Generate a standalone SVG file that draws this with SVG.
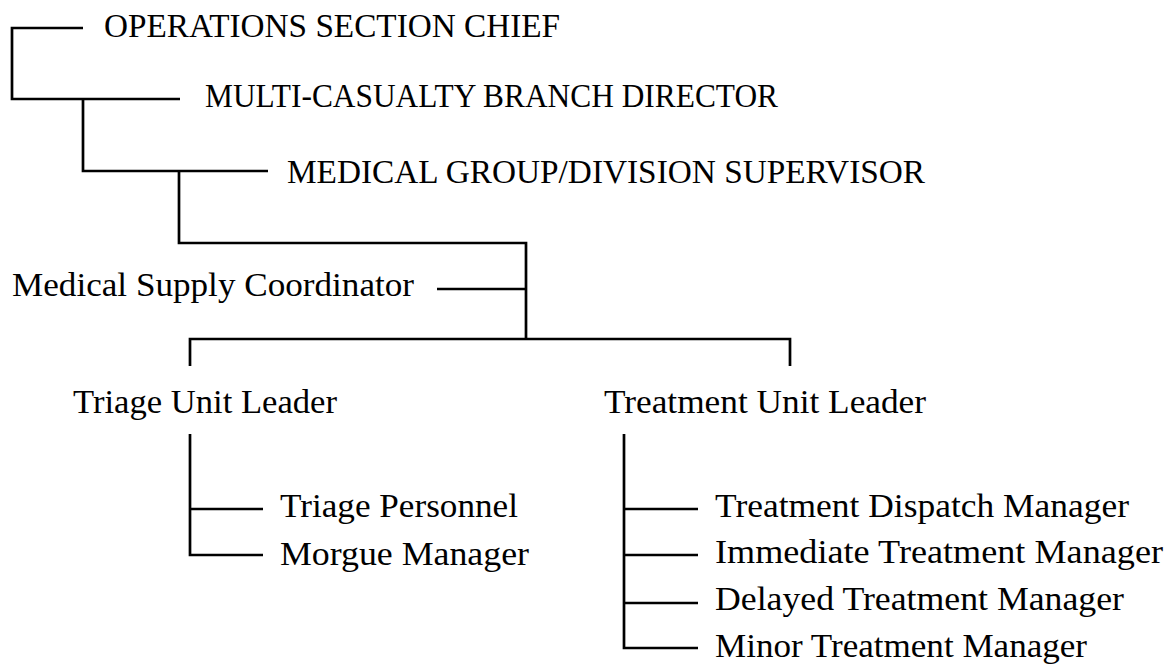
<svg xmlns="http://www.w3.org/2000/svg" width="1175" height="667" viewBox="0 0 1175 667">
<style>
.conn{fill:none;stroke:#000;stroke-width:2.7;stroke-linecap:butt;stroke-linejoin:miter}
.t{font-family:"Liberation Serif","Times New Roman",serif;font-size:34px;fill:#000}
</style>
<rect width="1175" height="667" fill="#fff"/>
<g id="connectors">
<path class="conn" d="M83,28 H12 V99 H180"/>
<path class="conn" d="M83,99 V171 H268"/>
<path class="conn" d="M179,171 V243 H526 V339"/>
<path class="conn" d="M437,289 H526"/>
<path class="conn" d="M190,366 V339 H790 V366"/>
<path class="conn" d="M190,434 V555 H263 M190,509 H263"/>
<path class="conn" d="M624,434 V648 H698 M624,509 H698 M624,555 H698 M624,603 H698"/>
</g>
<g id="operations-section-chief"><text class="t" x="104" y="37" textLength="456" lengthAdjust="spacingAndGlyphs">OPERATIONS SECTION CHIEF</text></g>
<g id="multi-casualty-branch-director"><text class="t" x="205" y="107" textLength="573" lengthAdjust="spacingAndGlyphs">MULTI-CASUALTY BRANCH DIRECTOR</text></g>
<g id="medical-group-supervisor"><text class="t" x="287" y="183" textLength="638" lengthAdjust="spacingAndGlyphs">MEDICAL GROUP/DIVISION SUPERVISOR</text></g>
<g id="medical-supply-coordinator"><text class="t" x="12" y="296" textLength="402" lengthAdjust="spacingAndGlyphs">Medical Supply Coordinator</text></g>
<g id="triage-unit-leader"><text class="t" x="73" y="413" textLength="264" lengthAdjust="spacingAndGlyphs">Triage Unit Leader</text></g>
<g id="treatment-unit-leader"><text class="t" x="604" y="413" textLength="322" lengthAdjust="spacingAndGlyphs">Treatment Unit Leader</text></g>
<g id="triage-personnel"><text class="t" x="280" y="517" textLength="238" lengthAdjust="spacingAndGlyphs">Triage Personnel</text></g>
<g id="morgue-manager"><text class="t" x="280" y="565" textLength="249" lengthAdjust="spacingAndGlyphs">Morgue Manager</text></g>
<g id="treatment-dispatch-manager"><text class="t" x="715" y="517" textLength="414" lengthAdjust="spacingAndGlyphs">Treatment Dispatch Manager</text></g>
<g id="immediate-treatment-manager"><text class="t" x="715" y="563" textLength="448" lengthAdjust="spacingAndGlyphs">Immediate Treatment Manager</text></g>
<g id="delayed-treatment-manager"><text class="t" x="715" y="610" textLength="409" lengthAdjust="spacingAndGlyphs">Delayed Treatment Manager</text></g>
<g id="minor-treatment-manager"><text class="t" x="715" y="657" textLength="372" lengthAdjust="spacingAndGlyphs">Minor Treatment Manager</text></g>
</svg>
